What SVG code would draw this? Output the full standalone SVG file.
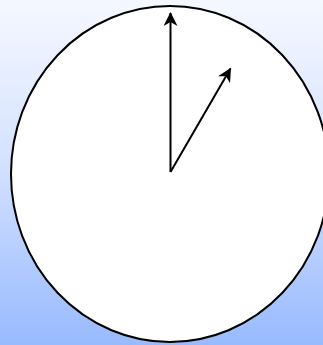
<svg xmlns="http://www.w3.org/2000/svg" width="323" height="345" viewBox="0 0 323 345">
<defs>
<linearGradient id="bg" x1="0" y1="0" x2="0" y2="1">
<stop offset="0" stop-color="#f5f8ff"/>
<stop offset="0.45" stop-color="#d6e3ff"/>
<stop offset="1" stop-color="#98baff"/>
</linearGradient>
<marker id="ah" viewBox="0 0 14 14" refX="13" refY="7" markerWidth="14" markerHeight="14" markerUnits="userSpaceOnUse" orient="auto">
<path d="M0,0 L14,7 L0,14 L4,7 Z" fill="#000"/>
</marker>
<style>
.hand{stroke:#000;stroke-width:2;fill:none;marker-end:url(#ah)}
</style>
</defs>
<rect width="323" height="345" fill="url(#bg)"/>
<g id="dial">
<ellipse cx="170" cy="174" rx="159" ry="168" fill="#fff" stroke="#000" stroke-width="2"/>
</g>
<g id="hands">
<line class="hand" x1="170.5" y1="172" x2="170.5" y2="13"/>
<line class="hand" x1="170.5" y1="172" x2="230.5" y2="68.5"/>
</g>
</svg>
